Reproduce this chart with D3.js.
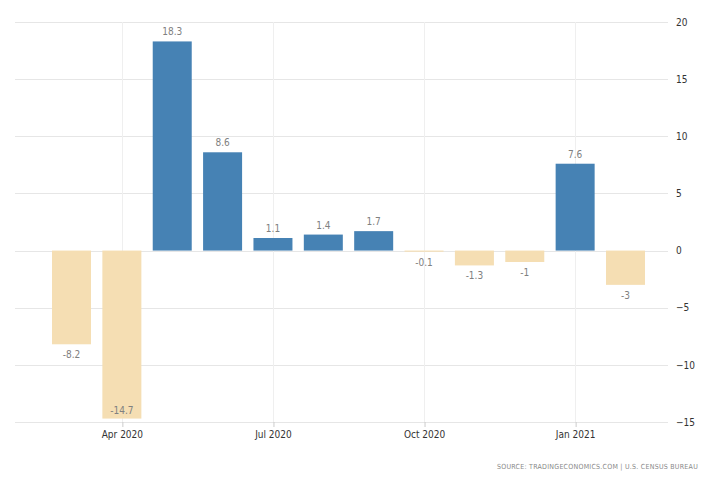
<!DOCTYPE html>
<html>
<head>
<meta charset="utf-8">
<script src="https://cdn.jsdelivr.net/npm/d3@7"></script>
<style>
  body { margin: 0; background: #fff; }
  svg { display: block; font-family: "DejaVu Sans Condensed", "DejaVu Sans", sans-serif; }
</style>
</head>
<body>
<svg id="chart" width="728" height="485"></svg>
<script>
// monthly values, Mar 2020 - Feb 2021
var months = ["2020-03", "2020-04", "2020-05", "2020-06", "2020-07", "2020-08",
              "2020-09", "2020-10", "2020-11", "2020-12", "2021-01", "2021-02"];
var values = [-8.2, -14.7, 18.3, 8.6, 1.1, 1.4, 1.7, -0.1, -1.3, -1, 7.6, -3];
var labels = ["-8.2", "-14.7", "18.3", "8.6", "1.1", "1.4", "1.7", "-0.1", "-1.3", "-1", "7.6", "-3"];
var xTickMonths = ["2020-04", "2020-07", "2020-10", "2021-01"];
var yTicks = [-15, -10, -5, 0, 5, 10, 15, 20];

var parse = d3.timeParse("%Y-%m");
var fmt = d3.timeFormat("%b %Y");
var data = months.map(function(m, i) {
  return { month: m, value: values[i], label: labels[i] };
});

var svg = d3.select("#chart");
var plotL = 15, plotR = 668, plotT = 22, plotB = 422;

// months are evenly spaced like categories
var x = d3.scalePoint()
    .domain(months)
    .range([71.5, 625.5]);

var y = d3.scaleLinear()
    .domain([-15, 20])
    .range([plotB, plotT]);

var barW = 39;

// horizontal grid
svg.append("g").selectAll("line")
    .data(yTicks)
    .enter().append("line")
    .attr("x1", plotL).attr("x2", plotR)
    .attr("y1", function(d) { return Math.round(y(d)) + 0.5; })
    .attr("y2", function(d) { return Math.round(y(d)) + 0.5; })
    .attr("stroke", "#e6e6e6")
    .attr("stroke-width", 1);

// vertical grid
svg.append("g").selectAll("line")
    .data(xTickMonths)
    .enter().append("line")
    .attr("x1", function(d) { return Math.round(x(d)) + 0.5; })
    .attr("x2", function(d) { return Math.round(x(d)) + 0.5; })
    .attr("y1", plotT).attr("y2", plotB)
    .attr("stroke", "#efefef")
    .attr("stroke-width", 1);

// bars
svg.append("g").selectAll("rect")
    .data(data)
    .enter().append("rect")
    .attr("x", function(d) { return x(d.month) - barW / 2; })
    .attr("y", function(d) { return y(Math.max(0, d.value)); })
    .attr("width", barW)
    .attr("height", function(d) { return Math.max(0.5, Math.abs(y(d.value) - y(0))); })
    .attr("fill", function(d) { return d.value >= 0 ? "#4682b4" : "#f5deb3"; });

// value labels
svg.append("g").selectAll("text")
    .data(data)
    .enter().append("text")
    .attr("x", function(d) { return x(d.month); })
    .attr("y", function(d) {
      if (d.value >= 0) return y(d.value) - 6;
      var yy = y(d.value) + 14;
      if (yy > plotB - 2) yy = y(d.value) - 5; // overflow -> inside the bar
      return yy;
    })
    .attr("text-anchor", "middle")
    .attr("font-size", "10px")
    .attr("fill", "#808080")
    .text(function(d) { return d.label; });

// x axis
var xAxis = d3.axisBottom(x)
    .tickValues(xTickMonths)
    .tickFormat(function(d) { return fmt(parse(d)); })
    .tickSize(5)
    .tickSizeOuter(0);

var gx = svg.append("g")
    .attr("transform", "translate(0," + plotB + ")")
    .call(xAxis);
gx.select(".domain").remove();
gx.selectAll(".tick line").attr("stroke", "#ccc").attr("transform", "translate(0.5,0)");
gx.selectAll(".tick text")
    .attr("dy", "0.8em")
    .attr("font-size", "10px")
    .attr("font-family", "\"DejaVu Sans Condensed\", sans-serif")
    .attr("fill", "#333");

// y axis on the right
var yAxis = d3.axisRight(y)
    .tickValues(yTicks)
    .tickSize(0)
    .tickPadding(8);

var gy = svg.append("g")
    .attr("transform", "translate(" + plotR + ",0)")
    .call(yAxis);
gy.select(".domain").remove();
gy.selectAll(".tick text")
    .attr("font-size", "10px")
    .attr("font-family", "\"DejaVu Sans Condensed\", sans-serif")
    .attr("fill", "#333");

// source
svg.append("text")
    .attr("x", 698)
    .attr("y", 469)
    .attr("text-anchor", "end")
    .attr("font-size", "7px")
    .attr("letter-spacing", "0.25px")
    .attr("fill", "#888")
    .text("SOURCE: TRADINGECONOMICS.COM | U.S. CENSUS BUREAU");
</script>
</body>
</html>
